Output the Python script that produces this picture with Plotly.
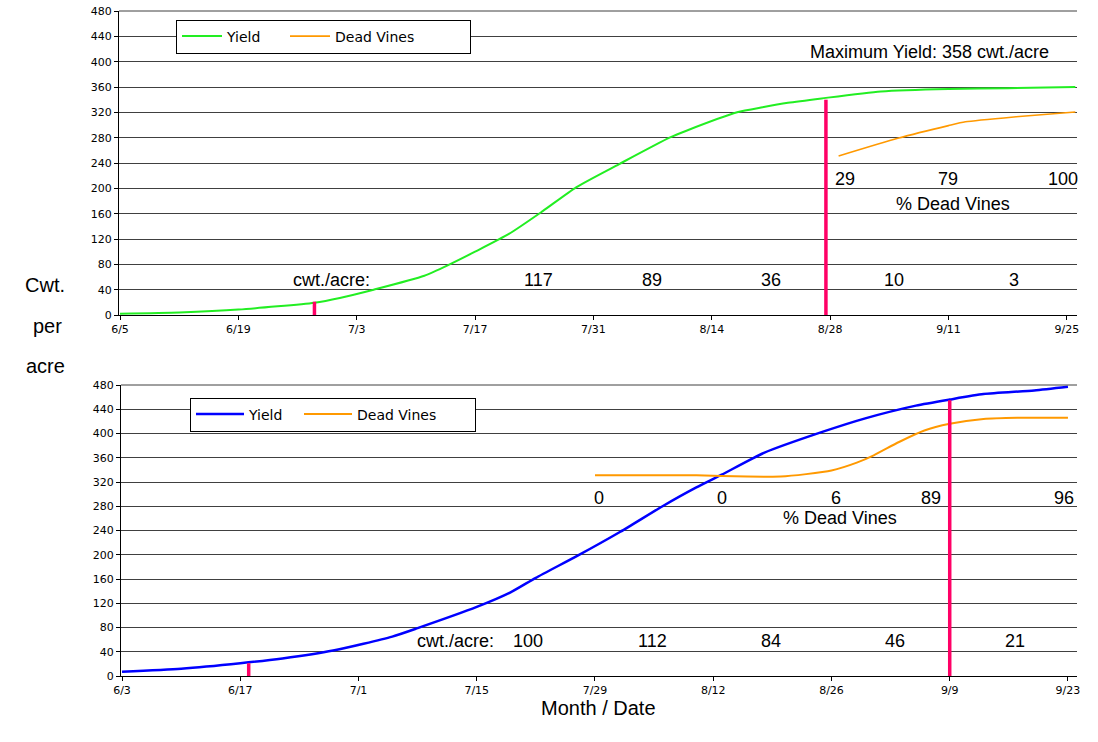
import plotly.graph_objects as go
from datetime import datetime, timedelta

YEAR = 2006

# ---------------- Top chart data ----------------
top_yield_dates = ["6/5", "6/12", "6/19", "6/28", "7/1", "7/5", "7/11", "7/14", "7/17", "7/21",
                   "7/25", "7/29", "8/3", "8/9", "8/11", "8/17", "8/20", "8/23", "8/27", "9/3",
                   "9/11", "9/18", "9/26"]
top_yield = [2, 4, 8.5, 19.5, 27, 40, 62, 80, 100, 128, 164, 202, 238, 280, 291, 320, 328, 335,
             342, 353, 357, 358, 360]
top_dead_dates = ["8/29", "9/5", "9/11", "9/13", "9/19", "9/26"]
top_dead = [251, 279, 299, 305, 313, 320.5]
top_marker_dates = ["6/28", "8/27.5"]
top_marker_vals = [21, 340]
top_cwt_labels = ["cwt./acre:", "117", "89", "36", "10", "3"]
top_pct_labels = ["29", "79", "100"]
top_max_yield = 358

# ---------------- Bottom chart data ----------------
bot_yield_dates = ["6/3", "6/10", "6/17", "6/22", "6/28", "7/5", "7/8", "7/15", "7/19", "7/22",
                   "7/27", "8/1", "8/6", "8/10", "8/13", "8/18", "8/25", "8/30", "9/5", "9/9",
                   "9/13", "9/19", "9/23"]
bot_yield = [7, 12, 21, 29, 42, 65, 79, 114, 138, 162, 199, 238, 280, 311, 332, 368, 403, 425,
             446, 456, 465, 471, 477]
bot_dead_dates = ["7/29", "8/5", "8/10", "8/16", "8/20", "8/23", "8/26", "8/29", "8/31", "9/3",
                  "9/6", "9/9", "9/13", "9/17", "9/23"]
bot_dead = [331, 331, 331, 329, 329, 333, 339, 352, 364, 386, 405, 416, 424, 426, 426]
bot_marker_dates = ["6/18", "9/9"]
bot_marker_vals = [21, 455]
bot_cwt_labels = ["cwt./acre:", "100", "112", "84", "46", "21"]
bot_pct_labels = ["0", "0", "6", "89", "96"]
bot_max_yield = 477

y_ticks = list(range(0, 481, 40))


def dt(md):
    m, d = md.split("/")
    d = float(d)
    return datetime(YEAR, int(m), int(d)) + timedelta(days=d - int(d))


def off(base, days):
    return dt(base) + timedelta(days=days)


GREEN = "#22ee22"
ORANGE = "#ff9900"
BLUE = "#0000ff"
PINK = "#ff0066"
GRID = "#404040"
FONT = "Liberation Sans, Arial, sans-serif"
TICKFONT = dict(family="DejaVu Sans", size=11, color="black")

# page geometry (body margin removed via post_script)
PL, PR, PT, PB = 119, 1077, 11, 676          # plot area in page pixels
FIG_W, FIG_H = 1098, 742


def px(xp):
    return (xp - PL) / (PR - PL)


def py(yp):
    return (PB - yp) / (PB - PT)


fig = go.Figure()

# Top traces
fig.add_trace(go.Scatter(x=[dt(s) for s in top_yield_dates], y=top_yield, mode="lines",
                         name="Yield", line=dict(color=GREEN, width=2, shape="spline", smoothing=0.6),
                         xaxis="x", yaxis="y", legend="legend", legendwidth=53))
fig.add_trace(go.Scatter(x=[dt(s) for s in top_dead_dates], y=top_dead, mode="lines",
                         name="Dead Vines", line=dict(color=ORANGE, width=1.6, shape="spline", smoothing=0.6),
                         xaxis="x", yaxis="y", legend="legend", legendwidth=130))
for dstr, v in zip(top_marker_dates, top_marker_vals):
    fig.add_trace(go.Scatter(x=[dt(dstr), dt(dstr)], y=[0, v], mode="lines", showlegend=False,
                             line=dict(color=PINK, width=3.5), xaxis="x", yaxis="y", hoverinfo="skip"))

# Bottom traces
fig.add_trace(go.Scatter(x=[dt(s) for s in bot_yield_dates], y=bot_yield, mode="lines",
                         name="Yield", line=dict(color=BLUE, width=2.5, shape="spline", smoothing=0.6),
                         xaxis="x2", yaxis="y2", legend="legend2", legendwidth=45))
fig.add_trace(go.Scatter(x=[dt(s) for s in bot_dead_dates], y=bot_dead, mode="lines",
                         name="Dead Vines", line=dict(color=ORANGE, width=2, shape="spline", smoothing=0.6),
                         xaxis="x2", yaxis="y2", legend="legend2", legendwidth=113))
for dstr, v in zip(bot_marker_dates, bot_marker_vals):
    fig.add_trace(go.Scatter(x=[dt(dstr), dt(dstr)], y=[0, v], mode="lines", showlegend=False,
                             line=dict(color=PINK, width=3.5), xaxis="x2", yaxis="y2", hoverinfo="skip"))

ann = []
AF = dict(family=FONT, size=18, color="black")
C = dict(showarrow=False, xanchor="center", yanchor="middle")

# top annotations
top_cwt_pos = [25, 49.5, 62.9, 77.0, 91.6, 105.8]
for t, p in zip(top_cwt_labels, top_cwt_pos):
    ann.append(dict(C, x=off("6/5", p), y=55, xref="x", yref="y", text=t, font=AF))
top_pct_pos = [85.7, 97.9, 111.5]
for t, p in zip(top_pct_labels, top_pct_pos):
    ann.append(dict(C, x=off("6/5", p), y=214, xref="x", yref="y", text=t, font=AF))
ann.append(dict(C, x=off("6/5", 98.5), y=176, xref="x", yref="y", text="% Dead Vines", font=AF))
ann.append(dict(C, x=off("6/5", 95.8), y=416, xref="x", yref="y",
                text=f"Maximum Yield: {top_max_yield} cwt./acre", font=AF))

# bottom annotations
bot_cwt_pos = [39.5, 48.1, 62.8, 76.8, 91.5, 105.7]
for t, p in zip(bot_cwt_labels, bot_cwt_pos):
    ann.append(dict(C, x=off("6/3", p), y=58, xref="x2", yref="y2", text=t, font=AF))
bot_pct_pos = [56.5, 71.0, 84.5, 95.8, 111.5]
for t, p in zip(bot_pct_labels, bot_pct_pos):
    ann.append(dict(C, x=off("6/3", p), y=293, xref="x2", yref="y2", text=t, font=AF))
ann.append(dict(C, x=off("6/3", 85.0), y=260, xref="x2", yref="y2", text="% Dead Vines", font=AF))
ann.append(dict(C, x=off("6/3", 95.8), y=506, xref="x2", yref="y2",
                text=f"Maximum Yield: {bot_max_yield} cwt./acre", font=AF))

# axis titles (paper coords)
TF = dict(family=FONT, size=20, color="black")
for txt, yy, xx in zip(["Cwt.", "per", "acre"], [285, 326, 366], [45, 47, 45]):
    ann.append(dict(C, x=px(xx), y=py(yy), xref="paper", yref="paper", text=txt, font=TF))
ann.append(dict(C, x=px(598), y=py(708), xref="paper", yref="paper", text="Month / Date", font=TF))

xcommon = dict(type="date", tickformat="%-m/%-d", dtick=14 * 86400000, showgrid=False,
               showline=True, linecolor="black", linewidth=1, ticks="outside", ticklen=4,
               tickcolor="black", tickfont=TICKFONT, zeroline=False, ticklabeloverflow="allow")
ycommon = dict(range=[0, 480], tickvals=y_ticks, showgrid=True, gridcolor=GRID, gridwidth=1,
               showline=True, linecolor="black", linewidth=1, ticks="outside", ticklen=4,
               tickcolor="black", tickfont=TICKFONT, zeroline=False, ticklabeloverflow="allow")

legcommon = dict(orientation="h", bgcolor="white", bordercolor="black", borderwidth=1,
                 font=dict(family="DejaVu Sans", size=14, color="black"),
                 xanchor="left", yanchor="middle", tracegroupgap=0)

# top edge gridline of each panel (y = 480)
shapes = [
    dict(type="line", xref="x domain", yref="paper", x0=0, x1=1, y0=1, y1=1,
         line=dict(color=GRID, width=1), layer="above"),
    dict(type="line", xref="x2 domain", yref="paper", x0=0, x1=1, y0=py(385), y1=py(385),
         line=dict(color=GRID, width=1), layer="above"),
]

fig.update_layout(
    width=FIG_W, height=FIG_H,
    margin=dict(l=PL, r=FIG_W - PR, t=PT, b=FIG_H - PB, autoexpand=False),
    paper_bgcolor="white", plot_bgcolor="white",
    showlegend=True,
    xaxis=dict(xcommon, domain=[0, 1], anchor="y",
               range=[off("6/5", -0.12), off("6/5", 113.2)], tick0=dt("6/5")),
    yaxis=dict(ycommon, domain=[py(315), 1.0], anchor="x"),
    xaxis2=dict(xcommon, domain=[px(121), 1], anchor="y2",
                range=[off("6/3", -0.12), off("6/3", 113.07)], tick0=dt("6/3")),
    yaxis2=dict(ycommon, domain=[0, py(385)], anchor="x2"),
    legend=dict(legcommon, x=px(176), y=py(36.5), itemwidth=40),
    legend2=dict(legcommon, x=px(190), y=py(414.5), itemwidth=48),
    annotations=ann,
    shapes=shapes,
)

fig.write_html("out.html", config={"displayModeBar": False},
               post_script="document.body.style.margin='0px';document.body.style.padding='0px';")
